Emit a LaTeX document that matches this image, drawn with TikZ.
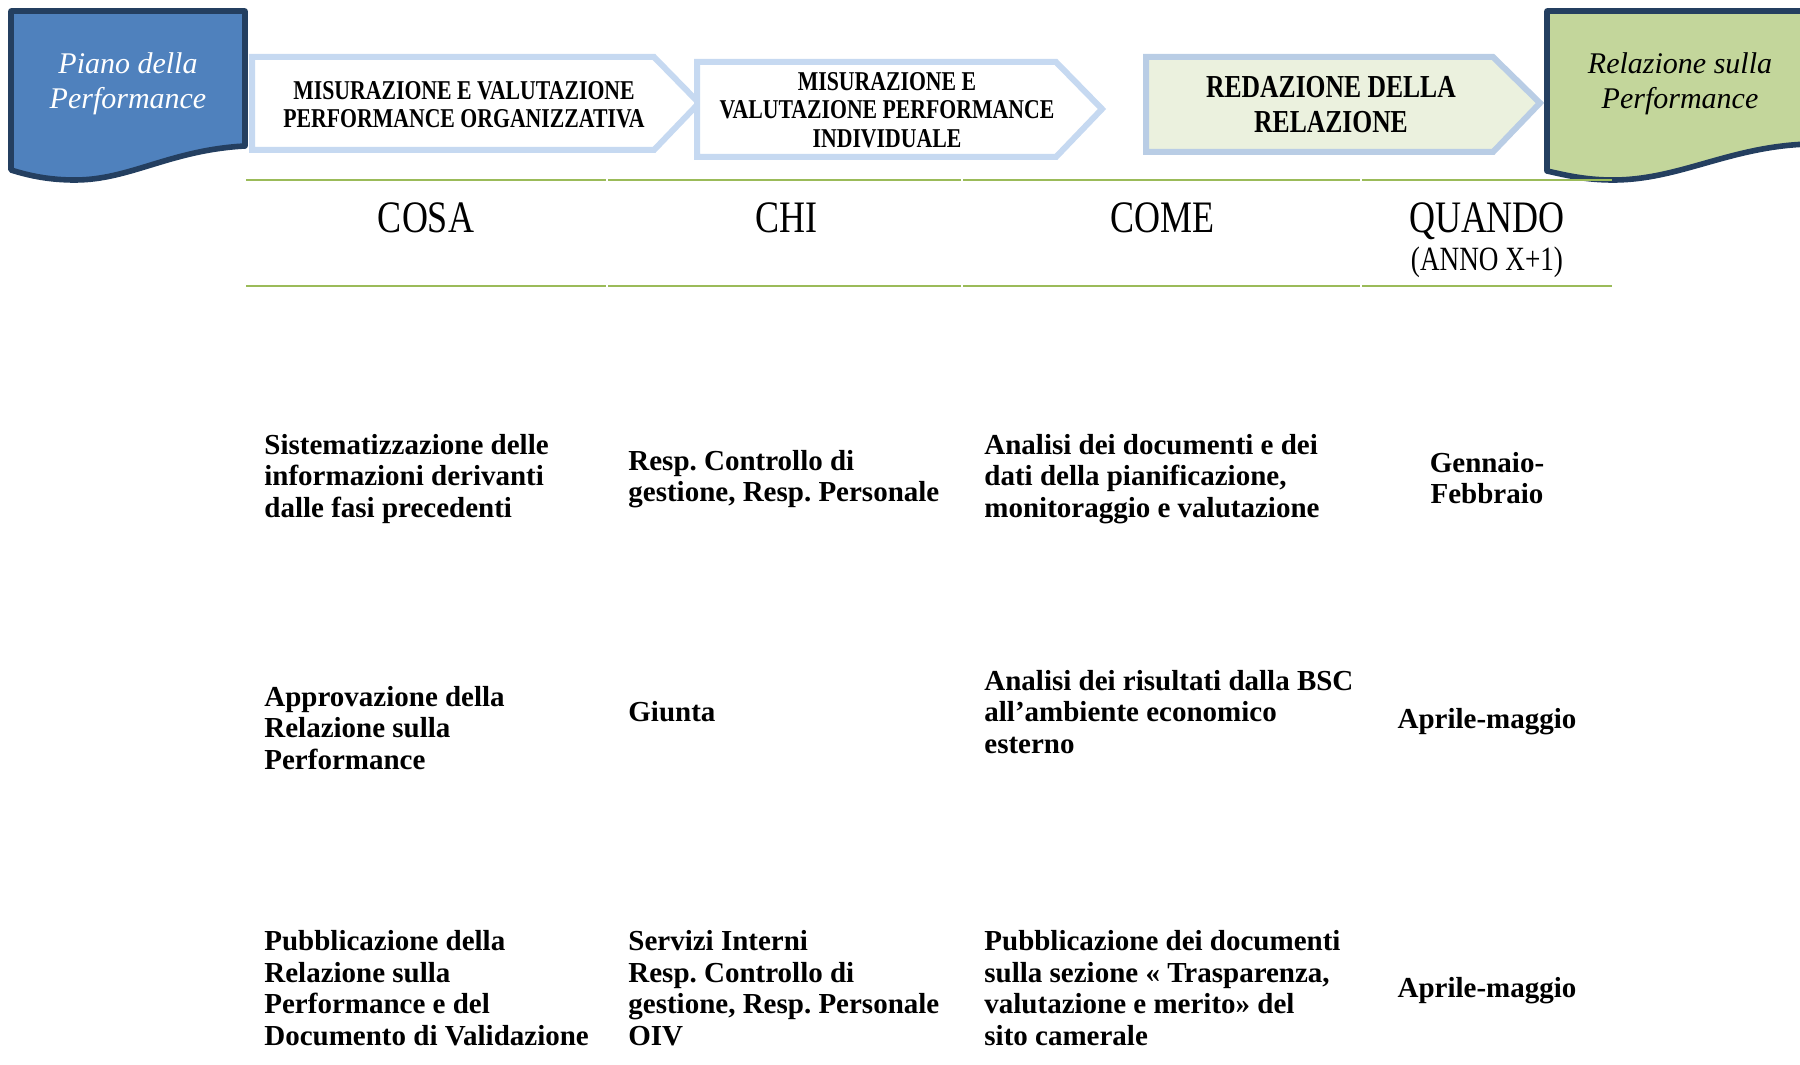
\documentclass[tikz,border=0pt]{standalone}
\usepackage{fontspec}
\setmainfont{Liberation Serif}
\newfontfamily\condfont[FakeStretch=0.8]{Liberation Serif}
\usetikzlibrary{positioning}
\frenchspacing

\definecolor{navy}{HTML}{243F60}
\definecolor{docblue}{HTML}{4F81BD}
\definecolor{docgreen}{HTML}{C3D69B}
\definecolor{phaseblue}{HTML}{C6D9F1}
\definecolor{phaseedge}{HTML}{B9CDE5}
\definecolor{phasefill}{HTML}{EBF1DE}
\definecolor{rulegreen}{HTML}{9BBB59}

\tikzset{
  docshape/.style={draw=navy, line width=2.8pt, line join=round},
  phase/.style={draw=phaseblue, line width=3pt, line join=miter},
  doctext/.style={align=center, inner sep=0pt, font=\itshape\fontsize{15}{17.6}\selectfont},
  phasetext/.style={align=center, inner sep=0pt, font=\condfont\bfseries\fontsize{13.6}{14.2}\selectfont},
  headtext/.style={anchor=base, inner sep=0pt, font=\condfont\fontsize{22.5}{24}\selectfont},
  headrule/.style={draw=rulegreen, line width=1pt},
  cell/.style={anchor=west, align=left, inner sep=0pt, font=\bfseries\fontsize{14.5}{15.8}\selectfont}
}

\begin{document}
\begin{tikzpicture}[x=0.5pt,y=-0.5pt]
        \useasboundingbox (0,0) rectangle (1800,1065);
        % the two documents
        \draw[docshape, fill=docblue] (11,11) -- (245,11) -- (245,146)
            .. controls (170,150) and (130,180) .. (75,180)
            .. controls (50,180) and (30,176) .. (11,170) -- cycle;
        \draw[docshape, fill=docgreen] (1547,11) -- (1810,11) -- (1810,144)
            .. controls (1730,146) and (1680,180) .. (1613,180)
            .. controls (1585,180) and (1565,175) .. (1547,171) -- cycle;
        \node[doctext, text=white] (piano) at (128,84) {Piano della\\Performance};
        \node[doctext] (relazione) at (1680,84) {Relazione sulla\\Performance};
        % the three phases
        \draw[phase, fill=white] (252,57) -- (654,57) -- (699,103) -- (654,150) -- (252,150) -- cycle;
        \draw[phase, fill=white] (697,62) -- (1056,62) -- (1102,109) -- (1056,157) -- (697,157) -- cycle;
        \draw[phase, draw=phaseedge, fill=phasefill] (1146,57) -- (1493,57) -- (1540,103) -- (1493,152) -- (1146,152) -- cycle;
        \node[phasetext] (organizzativa) at (464,105) {MISURAZIONE E VALUTAZIONE\\PERFORMANCE ORGANIZZATIVA};
        \node[phasetext] (individuale) at (887,110) {MISURAZIONE E\\VALUTAZIONE PERFORMANCE\\INDIVIDUALE};
        \node[phasetext, font=\condfont\bfseries\fontsize{16}{17.5}\selectfont] (redazione) at (1331,105) {REDAZIONE DELLA\\RELAZIONE};
        % table head
        \foreach \a/\b in {246/606, 608/961, 963/1360, 1362/1612} {
          \draw[headrule] (\a,180) -- (\b,180);
          \draw[headrule] (\a,286) -- (\b,286);
        }
        \foreach \Name/\X/\Label in {cosa/426/COSA, chi/786/CHI, come/1162/COME, quando/1487/QUANDO}
        \node[headtext] (\Name) at (\X,233) {\Label};
        \node[anchor=base, inner sep=0pt, font=\condfont\fontsize{17}{18}\selectfont] (anno) at (1487,270) {(ANNO X+1)};
        % first row
        \node[cell] (cosa1) at (264,479) {Sistematizzazione delle\\informazioni derivanti\\dalle fasi precedenti};
        \node[cell] (chi1) at (628,479) {Resp. Controllo di\\gestione, Resp. Personale};
        \node[cell] (come1) at (984,479) {Analisi dei documenti e dei\\dati della pianificazione,\\monitoraggio e valutazione};
        \node[cell, anchor=center, align=center] (quando1) at (1487,478) {Gennaio-\\Febbraio};
        % second row
        \node[cell] (cosa2) at (264,728) {Approvazione della\\Relazione sulla\\Performance};
        \node[cell] (chi2) at (628,712) {Giunta};
        \node[cell] (come2) at (984,712) {Analisi dei risultati dalla BSC\\all’ambiente economico\\esterno};
        \node[cell, anchor=center] (quando2) at (1487,722) {Aprile-maggio};
        % third row
        \node[cell] (cosa3) at (264,988) {Pubblicazione della\\Relazione sulla\\Performance e del\\Documento di Validazione};
        \node[cell] (chi3) at (628,988) {Servizi Interni\\Resp. Controllo di\\gestione, Resp. Personale\\OIV};
        \node[cell] (come3) at (984,988) {Pubblicazione dei documenti\\sulla sezione « Trasparenza,\\valutazione e merito» del\\sito camerale};
        \node[cell, anchor=center] (quando3) at (1487,991) {Aprile-maggio};
\end{tikzpicture}
\end{document}
